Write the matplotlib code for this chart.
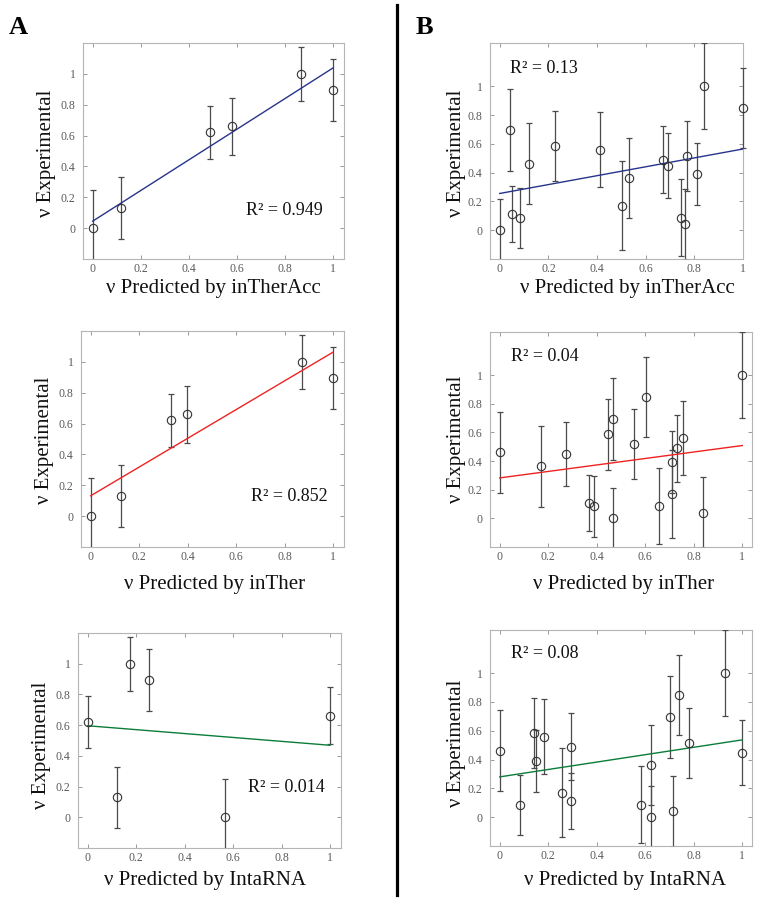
import matplotlib
matplotlib.use("Agg")
import matplotlib.pyplot as plt
from matplotlib.lines import Line2D
from matplotlib.patches import Rectangle

plt.rcParams['font.family'] = ['Liberation Serif', 'DejaVu Serif']

W, H = 761, 901

# ---------------- Data: set A (6 experiments) ----------------
yA = [0.0, 0.13, 0.62, 0.66, 1.0, 0.895]
errA = [0.25, 0.20, 0.17, 0.186, 0.175, 0.20]
xA_inTherAcc = [0.0, 0.12, 0.49, 0.58, 0.865, 1.0]
xA_inTher = [0.0, 0.125, 0.331, 0.398, 0.872, 1.0]
xA_IntaRNA = [0.565, 0.121, 0.0, 1.0, 0.173, 0.254]

# ---------------- Data: set B (17 experiments) ----------------
yB = [0.0, 0.04, 0.083, 0.086, 0.11, 0.17, 0.362, 0.392, 0.449,
      0.461, 0.49, 0.517, 0.56, 0.585, 0.693, 0.846, 1.0]
errB = [0.215, 0.245, 0.21, 0.267, 0.195, 0.31, 0.28, 0.217, 0.224,
        0.282, 0.234, 0.243, 0.26, 0.245, 0.285, 0.277, 0.30]
xB_inTherAcc = [0.0, 0.761, 0.085, 0.744, 0.05, 0.503, 0.532, 0.809, 0.69,
                0.122, 0.671, 0.769, 0.413, 0.227, 0.043, 1.0, 0.838]
xB_inTher = [0.465, 0.839, 0.387, 0.655, 0.37, 0.711, 0.171, 0.711, 0.272,
             0.0, 0.729, 0.553, 0.754, 0.447, 0.468, 0.601, 1.0]
xB_IntaRNA = [0.623, 0.715, 0.084, 0.583, 0.294, 0.257, 0.623, 0.151, 1.0,
              0.0, 0.293, 0.781, 0.183, 0.143, 0.704, 0.741, 0.93]

# fitted lines: value at x=0 and at x=1
fit_A_inTherAcc = [0.045, 1.039]
fit_A_inTher = [0.132, 1.063]
fit_A_IntaRNA = [0.596, 0.469]
fit_B_inTherAcc = [0.255, 0.564]
fit_B_inTher = [0.282, 0.508]
fit_B_IntaRNA = [0.280, 0.537]

r2_labels = ["R² = 0.949", "R² = 0.852", "R² = 0.014",
             "R² = 0.13", "R² = 0.04", "R² = 0.08"]
xlabels = ["ν Predicted by inTherAcc", "ν Predicted by inTher",
           "ν Predicted by IntaRNA"]
ylabel = "ν Experimental"
ticks = [0, 0.2, 0.4, 0.6, 0.8, 1]
ticklabels = ["0", "0.2", "0.4", "0.6", "0.8", "1"]

fig = plt.figure(figsize=(W / 100, H / 100), dpi=100)
fig.patch.set_facecolor('white')


def px_axes(l, r, t, b):
    return fig.add_axes([l / W, 1 - b / H, (r - l) / W, (b - t) / H])


panels = [
    dict(box=(83, 344, 43, 259), x=xA_inTherAcc, y=yA, e=errA, fit=fit_A_inTherAcc,
         color='#27348b', xlim=(-0.04, 1.045), ylim=(-0.2, 1.2), r2=(0.636, 0.117),
         xl=xlabels[0], xlc=(213, 288), ylc=(47, 153), r2t=r2_labels[0]),
    dict(box=(81, 344, 331, 547), x=xA_inTher, y=yA, e=errA, fit=fit_A_inTher,
         color='#ee2222', xlim=(-0.04, 1.045), ylim=(-0.2, 1.2), r2=(0.663, 0.126),
         xl=xlabels[1], xlc=(215, 584), ylc=(45, 440), r2t=r2_labels[1]),
    dict(box=(78, 341, 633, 848), x=xA_IntaRNA, y=yA, e=errA, fit=fit_A_IntaRNA,
         color='#0a7d3a', xlim=(-0.04, 1.045), ylim=(-0.2, 1.2), r2=(0.66, 0.192),
         xl=xlabels[2], xlc=(205, 880), ylc=(42, 745), r2t=r2_labels[2]),
    dict(box=(490, 743, 43, 259), x=xB_inTherAcc, y=yB, e=errB, fit=fit_B_inTherAcc,
         color='#27348b', xlim=(-0.04, 1.0), ylim=(-0.2, 1.3), r2=(0.041, 1.125),
         xl=xlabels[0], xlc=(627, 288), ylc=(456, 153), r2t=r2_labels[3]),
    dict(box=(490, 752, 332, 547), x=xB_inTher, y=yB, e=errB, fit=fit_B_inTher,
         color='#ee2222', xlim=(-0.04, 1.04), ylim=(-0.2, 1.3), r2=(0.045, 1.13),
         xl=xlabels[1], xlc=(624, 584), ylc=(456, 439), r2t=r2_labels[4]),
    dict(box=(490, 752, 630, 846), x=xB_IntaRNA, y=yB, e=errB, fit=fit_B_IntaRNA,
         color='#0a7d3a', xlim=(-0.04, 1.04), ylim=(-0.2, 1.3), r2=(0.045, 1.137),
         xl=xlabels[2], xlc=(625, 880), ylc=(456, 743), r2t=r2_labels[5]),
]

for p in panels:
    l, r, t, b = p['box']
    ax = px_axes(l, r, t, b)
    ax.set_xlim(*p['xlim'])
    ax.set_ylim(*p['ylim'])
    eb = ax.errorbar(p['x'], p['y'], yerr=p['e'], fmt='none', ecolor='#4a4a4a',
                     elinewidth=0.9, capsize=2.5, capthick=0.9, zorder=3)
    clip = Rectangle((-0.1, 0.0), 1.2, 1.0, transform=ax.transAxes)
    for art in eb.get_children():
        art.set_clip_path(clip)
    ax.plot(p['x'], p['y'], 'o', ms=6, mfc='none', mec='#333333', mew=0.8,
            zorder=5, clip_on=False)
    ax.plot([0, 1], p['fit'], color=p['color'], lw=1.0, zorder=4)
    ax.text(p['r2'][0], p['r2'][1], p['r2t'], ha='left', va='center',
            fontsize=13, color='#111111')
    ax.set_xticks(ticks)
    ax.set_xticklabels(ticklabels)
    ax.set_yticks(ticks)
    ax.set_yticklabels(ticklabels)
    ax.tick_params(axis='both', direction='in', length=3, width=0.7,
                   color='#999999', labelcolor='#5a5a5a', labelsize=8.5,
                   top=True, right=True)
    ax.tick_params(axis='x', pad=3)
    ax.tick_params(axis='y', pad=5.5)
    for s in ax.spines.values():
        s.set_color('#b5b5b5')
        s.set_linewidth(0.8)
    ax.set_xlabel(p['xl'], fontsize=15, color='#111111', va='center', ha='center')
    ax.xaxis.set_label_coords((p['xlc'][0] - l) / (r - l), (b - p['xlc'][1]) / (b - t))
    ax.set_ylabel(ylabel, fontsize=15, color='#111111', va='center', ha='center')
    ax.yaxis.set_label_coords((p['ylc'][0] - l) / (r - l), (b - p['ylc'][1]) / (b - t))

fig.text(18 / W, 1 - 28 / H, "A", fontsize=19, fontweight='bold', ha='center', va='center')
fig.text(424 / W, 1 - 28 / H, "B", fontsize=19, fontweight='bold', ha='center', va='center')

fig.add_artist(Line2D([397 / W, 397 / W], [1 - 5 / H, 1 - 895 / H],
                      color='black', lw=2.3, transform=fig.transFigure))

fig.savefig("out.png", dpi=100, facecolor='white')
